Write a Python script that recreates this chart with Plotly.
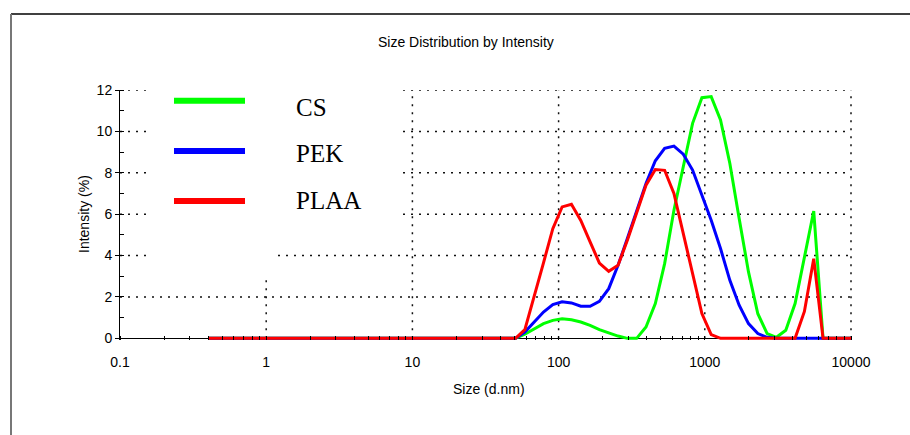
import math
import plotly.graph_objects as go

# Size bins (d.nm)
sizes = [0.4, 0.4632, 0.5365, 0.6213, 0.7195, 0.8332, 0.9649, 1.117, 1.294, 1.499,
         1.736, 2.01, 2.328, 2.696, 3.122, 3.615, 4.187, 4.849, 5.615, 6.503,
         7.531, 8.721, 10.1, 11.7, 13.54, 15.69, 18.17, 21.04, 24.36, 28.21,
         32.67, 37.84, 43.82, 50.75, 58.77, 68.06, 78.82, 91.28, 105.7, 122.4,
         141.8, 164.2, 190.1, 220.2, 255.0, 295.3, 342.0, 396.1, 458.7, 531.2,
         615.1, 712.4, 825.0, 955.4, 1106, 1281, 1484, 1718, 1990, 2305,
         2669, 3091, 3580, 4145, 4801, 5560, 6439, 7456, 8635, 10000]

cs = [0] * 33 + [0, 0.2, 0.47, 0.71, 0.87, 0.95, 0.9, 0.79, 0.63, 0.42,
                 0.26, 0.11, 0.0, 0.0, 0.55, 1.68, 3.61, 6.19, 8.29, 10.39,
                 11.63, 11.68, 10.55, 8.45, 5.79, 3.21, 1.19, 0.23, 0.05, 0.39,
                 1.68, 3.93, 6.15, 0, 0, 0, 0]
pek = [0] * 33 + [0, 0.3, 0.79, 1.27, 1.63, 1.77, 1.71, 1.55, 1.55, 1.79,
                  2.4, 3.53, 4.82, 6.19, 7.48, 8.58, 9.18, 9.29, 8.9, 8.13,
                  6.92, 5.71, 4.34, 2.8, 1.6, 0.71, 0.23, 0.05, 0, 0,
                  0, 0, 0, 0, 0, 0, 0]
plaa = [0] * 33 + [0, 0.42, 2.0, 3.65, 5.3, 6.35, 6.48, 5.7, 4.66, 3.64,
                   3.24, 3.53, 4.74, 6.03, 7.4, 8.16, 8.12, 7.0, 5.07, 3.1,
                   1.2, 0.18, 0, 0, 0, 0, 0, 0, 0, 0,
                   0, 1.3, 3.85, 0, 0, 0, 0]

series_names = ["CS", "PEK", "PLAA"]
series_colors = ["#00ff00", "#0000ff", "#ff0000"]
series_values = [cs, pek, plaa]

x_tickvals = [0.1, 1, 10, 100, 1000, 10000]
x_ticktext = ["0.1", "1", "10", "100", "1000", "10000"]
y_tickvals = [0, 2, 4, 6, 8, 10, 12]
x_min_log, x_max_log = -1, 4

W, H = 910, 435
L, R, T, B = 120, 59, 90, 95
pw, ph = W - L - R, H - T - B


def px_x(p):
    return (p - L) / pw


def px_y(p):
    return (H - B - p) / ph


def log_paper(v):
    return (math.log10(v) - x_min_log) / (x_max_log - x_min_log)


fig = go.Figure()
for name, color, vals in zip(series_names, series_colors, series_values):
    fig.add_trace(go.Scatter(x=sizes, y=vals, mode="lines", name=name,
                             line=dict(color=color, width=3), showlegend=False))

sans = "Liberation Sans, Arial, sans-serif"
serif = "Liberation Serif, Times New Roman, serif"
grid_line = dict(color="#111111", width=1.5, dash="2px,6px")

shapes = []
# dotted gridlines, interrupted behind the legend as in the original
for yv in y_tickvals[1:]:
    if yv <= 2:
        segs = [(0, 1)]
    elif yv <= 4:
        segs = [(0, px_x(150)), (px_x(278), 1)]
    else:
        segs = [(0, px_x(150)), (px_x(403), 1)]
    for a, b in segs:
        shapes.append(dict(type="line", xref="paper", yref="y", layer="below",
                           x0=a, x1=b, y0=yv, y1=yv, line=grid_line))
for xv in x_tickvals[1:]:
    top = 2.95 if xv == 1 else 12
    shapes.append(dict(type="line", xref="paper", yref="y", layer="below",
                       x0=log_paper(xv), x1=log_paper(xv), y0=0, y1=top, line=grid_line))

# frame lines
shapes.append(dict(type="line", xref="paper", yref="paper",
                   x0=px_x(11), x1=px_x(912), y0=px_y(14), y1=px_y(14),
                   line=dict(color="black", width=1.5)))
shapes.append(dict(type="line", xref="paper", yref="paper",
                   x0=px_x(11), x1=px_x(11), y0=px_y(14), y1=px_y(437),
                   line=dict(color="#777777", width=2)))

annotations = []
legend_line_y = [100.7, 151, 201]
legend_text_y = [108, 153, 200]
for name, color, ly, ty in zip(series_names, series_colors, legend_line_y, legend_text_y):
    shapes.append(dict(type="line", xref="paper", yref="paper",
                       x0=px_x(174), x1=px_x(245), y0=px_y(ly), y1=px_y(ly),
                       line=dict(color=color, width=6)))
    annotations.append(dict(text=name, xref="paper", yref="paper",
                            x=px_x(294), y=px_y(ty), xanchor="left", yanchor="middle",
                            showarrow=False, font=dict(family=serif, size=25, color="black")))

annotations.append(dict(text="Size Distribution by Intensity", xref="paper", yref="paper",
                        x=px_x(466), y=px_y(42), xanchor="center", yanchor="middle",
                        showarrow=False, font=dict(family=sans, size=14, color="black")))
annotations.append(dict(text="Size (d.nm)", xref="paper", yref="paper",
                        x=px_x(489), y=px_y(389), xanchor="center", yanchor="middle",
                        showarrow=False, font=dict(family=sans, size=14, color="black")))
annotations.append(dict(text="Intensity (%)", xref="paper", yref="paper",
                        x=px_x(84), y=px_y(214), xanchor="center", yanchor="middle",
                        textangle=-90, showarrow=False,
                        font=dict(family=sans, size=14, color="black")))

fig.update_layout(
    width=W, height=H,
    margin=dict(l=L, r=R, t=T, b=B, pad=0),
    paper_bgcolor="white", plot_bgcolor="white",
    showlegend=False,
    shapes=shapes, annotations=annotations,
    font=dict(family=sans, size=14, color="black"),
    xaxis=dict(type="log", range=[x_min_log, x_max_log], tickmode="array",
               tickvals=x_tickvals, ticktext=x_ticktext, ticks="", showline=False,
               zeroline=False, showgrid=False,
               ticklabelstandoff=12, tickfont=dict(family=sans, size=14),
               minor=dict(dtick="D1", ticks="inside", ticklen=4, tickcolor="black",
                          tickwidth=1, showgrid=False)),
    yaxis=dict(range=[-0.08, 12], tickmode="array", tickvals=y_tickvals,
               ticks="outside", ticklen=4, tickcolor="black",
               showline=True, linecolor="black", linewidth=1,
               zeroline=True, zerolinecolor="black", zerolinewidth=1,
               showgrid=False,
               tickfont=dict(family=sans, size=14),
               minor=dict(dtick=1, ticks="inside", ticklen=4, tickcolor="black",
                          tickwidth=1, showgrid=False)),
)

fig.write_html("out.html")
